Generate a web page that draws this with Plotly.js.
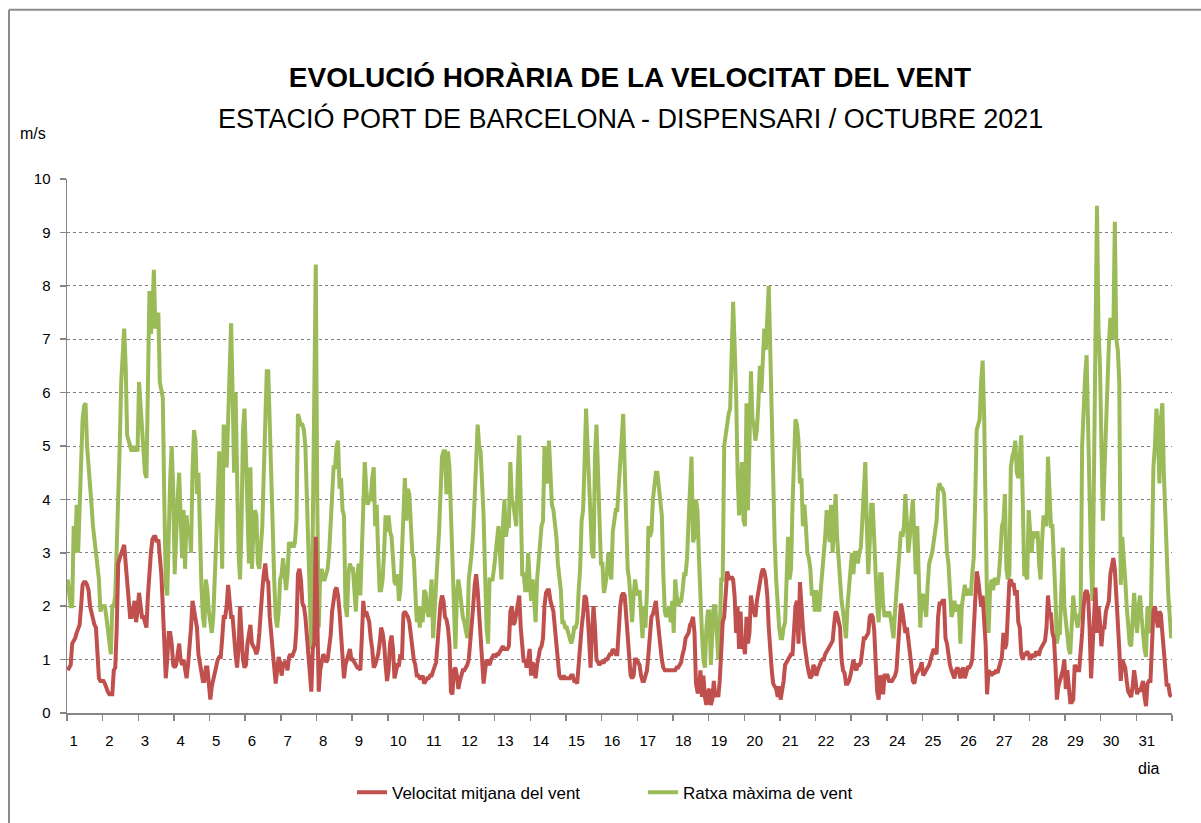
<!DOCTYPE html>
<html>
<head>
<meta charset="utf-8">
<script src="https://cdn.plot.ly/plotly-3.0.1.min.js"></script>
<style>
  html, body { margin: 0; padding: 0; background: #ffffff; }
  #chart { width: 1201px; height: 823px; }
</style>
</head>
<body>
<div id="chart"></div>
<script>
// Day labels of the category axis (October 2021)
const dayLabels = ['1','2','3','4','5','6','7','8','9','10','11','12','13','14','15','16',
  '17','18','19','20','21','22','23','24','25','26','27','28','29','30','31'];

// Hourly mean wind speed (m/s), one row per day (24 hourly values)
const meanSpeed = [
  0.8,0.85,0.9,1.3,1.35,1.4,1.5,1.6,1.65,2.0,2.4,2.45,2.45,2.4,2.3,2.0,1.85,1.8,1.65,1.6,1.1,0.65,0.6,0.6,
  0.6,0.55,0.45,0.4,0.35,0.35,0.35,0.8,0.85,1.6,2.8,2.9,3.0,3.1,3.15,2.8,2.4,2.0,1.8,1.8,2.0,2.1,1.7,1.9,
  2.25,2.0,1.8,1.8,1.7,1.6,2.2,2.7,3.0,3.25,3.3,3.3,3.2,3.25,2.9,2.6,2.0,1.3,0.65,1.0,1.5,1.5,1.3,0.9,
  0.85,0.9,1.1,1.3,1.0,0.9,1.0,0.8,0.65,0.9,1.2,1.6,2.1,1.9,1.8,1.6,1.1,0.9,0.7,0.6,0.6,0.85,0.85,0.5,
  0.25,0.5,0.65,0.8,0.9,1.0,1.05,1.05,1.4,1.8,1.8,2.0,2.4,2.1,1.8,1.8,1.3,1.1,0.85,1.2,2.0,1.4,1.0,0.85,
  0.9,1.3,1.5,1.65,1.3,1.25,1.2,1.1,1.2,1.5,2.0,2.3,2.6,2.8,2.5,2.45,1.8,1.5,1.2,0.8,0.55,0.8,1.05,0.95,
  0.7,0.9,0.95,0.95,0.8,1.05,1.1,1.05,1.15,1.2,1.6,2.6,2.7,2.5,2.05,2.0,1.8,1.4,1.0,0.6,0.4,1.2,1.3,3.3,
  1.5,0.4,0.8,1.0,1.1,1.05,0.95,1.0,1.2,1.45,1.9,2.2,2.3,2.35,2.2,1.9,1.5,1.0,0.65,0.9,1.0,1.1,1.2,1.0,
  1.0,0.95,0.9,0.85,0.85,0.8,1.4,2.1,1.8,1.9,1.8,1.7,1.4,1.2,0.85,0.9,1.0,1.1,1.3,1.6,1.5,1.3,0.9,0.6,
  0.8,1.3,1.45,1.2,0.65,0.8,0.9,0.9,1.1,1.0,1.85,1.9,1.85,1.8,1.7,1.4,1.2,1.0,0.9,0.7,0.7,0.65,0.65,0.7,
  0.55,0.6,0.65,0.65,0.7,0.7,0.8,0.85,0.95,1.3,1.7,2.05,2.2,2.1,1.8,1.75,1.6,1.3,0.4,0.35,0.8,0.85,0.7,0.45,
  0.6,0.7,0.8,0.8,0.85,0.9,1.0,1.3,1.6,2.0,2.4,2.6,2.3,1.9,1.4,0.9,0.55,0.8,1.0,0.95,0.9,1.0,1.05,1.1,
  1.05,1.1,1.1,1.15,1.2,1.25,1.2,1.2,1.2,1.25,1.9,2.0,1.65,1.7,1.9,2.1,2.2,1.6,1.2,0.95,1.0,0.85,1.0,1.2,
  0.7,0.95,0.85,0.65,0.9,1.1,1.2,1.25,1.4,2.0,2.25,2.3,2.3,2.1,1.95,1.9,1.6,1.3,1.0,0.7,0.65,0.65,0.7,0.65,
  0.65,0.65,0.65,0.7,0.7,0.6,0.6,0.55,0.9,1.4,1.6,1.85,2.2,2.15,1.9,1.4,0.85,1.5,2.0,1.6,1.0,0.95,0.9,0.95,
  0.95,0.95,1.0,1.0,1.05,1.1,1.1,1.2,1.15,1.1,1.1,1.6,2.0,2.2,2.25,2.2,1.8,1.3,1.0,0.7,0.65,0.7,1.0,1.0,
  0.95,0.9,0.7,0.6,0.6,0.7,0.8,1.1,1.5,1.8,1.85,2.0,2.1,1.8,1.5,1.4,1.0,0.85,0.8,0.8,0.8,0.8,0.8,0.8,
  0.8,0.8,0.85,0.85,0.9,0.95,1.1,1.2,1.4,1.45,1.5,1.65,1.7,1.8,1.5,0.55,0.4,0.4,0.8,0.3,0.7,0.3,0.15,0.4,
  0.45,0.15,0.25,0.6,0.3,0.4,0.3,0.6,1.2,1.7,1.8,2.4,2.65,2.55,2.5,2.55,2.5,2.2,1.5,2.0,1.2,1.9,1.2,1.3,
  1.1,1.8,1.3,1.5,2.2,2.0,1.9,1.8,2.1,2.3,2.4,2.6,2.7,2.65,2.5,2.2,1.6,1.1,0.8,0.55,0.5,0.45,0.3,0.5,
  0.25,0.4,0.6,0.9,0.95,1.0,1.05,1.1,1.1,1.6,2.0,2.1,1.3,2.45,1.9,1.6,1.3,1.0,0.9,0.75,0.65,0.7,0.9,0.85,
  0.7,0.8,0.9,0.95,1.0,1.0,1.1,1.15,1.2,1.25,1.3,1.35,1.65,1.9,1.85,1.75,1.6,1.0,0.8,0.75,0.55,0.55,0.6,0.7,
  0.9,1.0,0.85,0.8,0.9,0.9,0.95,1.2,1.4,1.4,1.45,1.5,1.8,1.85,1.8,1.55,0.95,0.4,0.25,0.7,0.65,0.35,0.7,0.7,
  0.7,0.6,0.6,0.6,0.65,0.7,0.8,1.3,1.65,2.05,1.9,1.7,1.5,1.6,1.4,1.2,0.9,0.6,0.55,0.7,0.75,0.8,0.85,0.95,
  0.7,0.75,0.8,0.85,0.9,1.0,1.1,1.2,1.15,1.1,1.8,2.05,2.05,2.1,2.1,1.4,1.3,1.0,0.9,0.8,0.7,0.65,0.8,0.85,
  0.8,0.65,0.8,0.85,0.65,0.8,0.85,0.85,0.9,1.0,1.5,2.3,2.65,2.5,2.3,2.0,2.2,1.65,1.3,0.35,0.8,0.75,0.7,0.75,
  0.75,0.8,0.75,0.85,1.0,1.05,1.5,1.2,1.3,1.8,2.45,2.5,2.4,2.4,2.2,2.3,1.7,1.6,1.1,1.0,1.1,1.1,1.15,1.1,
  1.0,1.05,1.1,1.05,1.15,1.1,1.1,1.2,1.25,1.3,1.35,1.6,2.2,1.85,1.85,1.5,1.4,0.9,0.25,0.5,0.65,0.7,0.8,1.0,
  0.45,0.8,0.5,0.2,0.2,0.25,0.9,0.85,0.8,0.8,1.1,1.5,2.0,2.25,2.3,2.2,1.6,0.65,1.2,2.0,2.35,1.5,2.0,1.7,
  1.25,1.6,1.6,1.9,2.0,2.1,2.6,2.8,2.9,2.7,2.3,1.7,1.2,0.6,1.0,0.9,0.85,0.6,0.4,0.35,0.3,0.5,0.8,0.6,
  0.35,0.45,0.4,0.5,0.6,0.3,0.13,0.55,0.6,0.6,1.2,1.9,2.0,1.8,1.6,1.9,1.85,1.5,1.2,0.9,0.5,0.55,0.35,0.3
];

// Hourly maximum gust (m/s), one row per day (24 hourly values)
const maxGust = [
  2.5,2.3,2.0,2.0,3.5,3.0,3.9,3.0,3.9,4.6,5.5,5.75,5.8,5.0,4.7,4.3,3.9,3.5,3.2,2.9,2.8,2.5,1.9,2.0,
  2.0,2.0,1.8,1.5,1.2,1.1,2.0,2.0,2.2,3.0,3.9,5.0,6.2,6.8,7.2,6.5,5.2,5.1,5.0,4.9,5.0,4.9,5.0,4.9,
  6.2,5.8,5.5,4.9,4.5,4.4,6.5,7.9,7.1,7.5,8.3,7.2,7.3,7.5,6.2,6.0,5.9,4.0,2.4,2.2,3.5,4.4,5.0,4.2,
  2.6,3.5,4.0,4.5,3.3,2.9,3.8,2.7,3.7,3.3,3.5,3.0,4.5,5.3,5.1,4.1,4.5,3.0,2.4,1.8,1.6,2.5,2.3,1.9,
  1.6,1.5,1.8,2.5,3.0,4.0,4.9,4.0,2.7,5.4,5.1,4.6,5.5,6.7,7.3,6.0,4.5,6.0,4.0,3.0,2.5,3.5,5.3,5.7,
  4.8,3.5,2.8,4.6,2.7,3.4,3.8,3.7,2.8,2.7,3.0,3.5,4.5,5.8,6.4,6.4,5.6,4.5,3.5,2.5,1.8,1.6,1.9,2.5,
  2.6,2.9,2.6,2.3,2.6,3.2,3.1,3.2,3.1,3.2,3.6,5.6,5.5,5.4,5.4,5.3,5.0,4.0,3.0,2.0,1.2,3.5,6.5,8.4,
  4.0,1.6,2.6,2.7,2.5,2.5,2.6,2.7,3.0,3.6,4.0,4.6,4.6,5.0,5.1,4.2,4.4,3.8,3.7,2.0,1.8,2.6,2.8,2.7,
  2.7,2.2,1.9,2.6,2.8,2.2,3.0,4.0,4.7,4.2,3.9,4.0,4.0,4.4,4.6,3.5,3.9,3.0,2.3,2.3,2.5,3.0,3.7,3.4,
  3.7,3.4,3.3,2.9,2.45,2.4,2.6,2.1,2.3,3.0,4.0,4.4,3.6,4.2,4.1,3.3,3.0,2.9,2.2,1.7,2.0,1.6,2.0,1.7,
  2.3,2.25,1.9,1.8,2.1,2.5,1.4,2.0,2.3,2.9,3.4,4.3,4.8,4.9,4.9,4.1,4.9,4.6,3.6,2.8,2.0,1.2,2.2,2.5,
  2.3,2.0,1.8,1.7,1.5,1.4,2.5,2.7,3.0,3.4,3.9,4.7,5.4,5.0,4.9,4.4,3.7,2.6,1.6,1.3,2.5,2.5,2.5,2.7,
  3.0,3.1,3.5,3.0,2.5,3.5,4.0,3.3,3.5,3.5,4.7,4.0,3.9,3.7,3.5,4.5,5.2,4.0,2.6,2.6,2.3,2.3,3.0,2.5,
  2.1,2.5,2.2,1.7,2.5,2.9,3.3,3.5,3.6,5.0,4.5,4.3,5.1,4.2,3.9,3.8,3.6,3.3,2.8,2.5,2.3,1.7,1.7,1.6,
  1.6,1.5,1.35,1.3,1.4,1.6,1.6,1.7,2.3,2.7,3.6,3.8,4.7,5.7,5.0,4.2,3.5,3.0,2.9,4.8,5.4,4.3,3.7,2.8,
  2.8,2.25,2.4,2.6,3.0,2.8,2.5,3.4,3.6,3.8,3.8,4.2,4.7,5.0,5.6,4.6,3.5,2.7,2.5,2.2,1.7,2.2,2.5,2.3,
  2.2,2.3,1.8,1.4,2.0,1.6,2.3,3.5,3.3,3.4,4.0,4.2,4.5,4.5,4.2,4.0,3.7,2.6,1.9,1.8,1.9,2.0,1.7,2.1,
  1.5,2.5,2.2,2.0,2.1,2.1,2.3,2.6,2.6,2.9,3.6,4.5,4.8,3.2,3.3,4.0,3.8,2.9,2.0,1.5,1.0,0.85,1.6,1.9,
  1.9,0.9,1.5,2.0,2.0,1.5,1.0,1.5,2.5,2.5,5.0,5.2,5.5,5.6,5.7,7.0,7.7,6.9,6.0,4.5,3.7,4.3,4.7,3.6,
  3.5,5.8,3.8,5.0,6.4,5.5,5.4,5.1,5.3,5.8,6.5,6.0,6.5,7.2,6.8,7.5,8.0,6.8,5.5,4.2,3.2,2.5,1.9,1.6,
  1.4,1.4,1.6,1.7,2.5,3.3,2.5,2.7,3.9,4.5,5.5,5.4,5.1,4.3,4.4,3.5,3.9,3.5,3.0,2.9,2.7,2.2,2.3,1.9,
  2.3,2.0,1.9,2.3,2.6,3.0,3.3,3.8,3.5,3.2,3.9,3.0,3.5,4.1,3.3,2.8,2.5,2.1,1.9,1.6,1.4,2.0,2.3,2.8,
  3.0,2.6,3.0,3.0,2.8,3.0,3.1,3.6,4.4,4.7,3.5,2.6,3.2,3.9,3.9,3.0,2.6,2.0,1.7,2.6,2.6,2.0,1.8,1.9,
  1.8,1.9,1.8,1.6,1.4,1.9,2.3,2.6,2.9,3.4,3.3,3.5,4.1,3.3,3.0,3.3,3.8,4.0,3.3,2.6,3.5,2.6,1.6,2.2,
  2.2,2.0,1.8,2.4,2.8,2.9,3.0,3.2,3.4,3.6,4.2,4.3,4.2,4.2,4.1,3.5,3.0,2.8,2.2,1.8,1.9,2.1,1.9,2.0,
  2.0,1.3,2.0,2.3,2.4,2.2,2.3,2.3,2.2,2.6,2.9,4.0,5.3,5.4,5.5,6.2,6.6,5.6,3.5,2.0,1.5,2.3,2.5,2.3,
  2.5,2.5,2.4,2.6,3.0,3.5,3.6,4.1,2.7,2.5,2.6,4.6,4.8,4.9,5.1,4.5,4.4,4.8,5.2,4.0,2.6,2.6,2.5,3.8,
  3.3,3.0,3.4,3.3,3.3,3.4,2.8,2.5,3.2,3.7,3.6,3.5,4.8,3.9,3.5,3.5,3.0,2.2,1.3,1.5,1.5,2.5,3.1,2.0,
  1.7,1.4,1.2,1.1,1.7,2.2,1.9,1.7,1.6,1.8,1.9,5.0,5.8,6.3,6.7,5.2,3.6,2.8,2.1,5.0,8.0,9.5,7.2,6.5,
  5.0,3.6,4.5,5.5,6.5,6.9,7.4,7.0,7.1,9.2,7.0,6.8,6.2,2.4,3.3,2.7,2.5,2.0,1.5,1.3,1.25,1.8,2.25,1.8,
  1.5,2.0,2.2,1.8,1.45,1.2,1.05,2.0,1.6,1.5,3.0,4.6,5.0,5.7,5.3,4.3,5.5,5.8,4.5,3.6,2.8,2.2,1.8,1.4
];

const seriesNames = ['Velocitat mitjana del vent', 'Ratxa màxima de vent'];

const HOURS_PER_DAY = 24;
const hourIndex = meanSpeed.map((_, i) => i + 0.5);
const totalHours = meanSpeed.length;

// plot-area geometry in page pixels
const PL = 67, PR = 1172, PT = 179, PB = 715;
const W = 1201, H = 823;
const px = v => (v - PL) / (PR - PL);
const py = v => (PB - v) / (PB - PT);

const FONT = "'Liberation Sans', Arial, sans-serif";
const AXIS_GREY = '#868686';

const gustTrace = {
  x: hourIndex, y: maxGust, type: 'scatter', mode: 'lines',
  name: seriesNames[1], legendrank: 2,
  line: { color: '#9BBB59', width: 4 }, hoverinfo: 'skip'
};
const meanTrace = {
  x: hourIndex, y: meanSpeed, type: 'scatter', mode: 'lines',
  name: seriesNames[0], legendrank: 1,
  line: { color: '#C0504D', width: 4 }, hoverinfo: 'skip'
};

const labelVals = dayLabels.map((d, i) => i * HOURS_PER_DAY + (d.length > 1 ? 7 : 4.5));

const layout = {
  width: W, height: H,
  margin: { l: PL, r: W - PR, t: PT, b: H - PB, pad: 0 },
  paper_bgcolor: '#ffffff', plot_bgcolor: '#ffffff',
  font: { family: FONT, size: 15, color: '#000000' },
  title: {
    text: '<b>EVOLUCIÓ HORÀRIA DE LA VELOCITAT DEL VENT</b>',
    font: { family: FONT, size: 28, color: '#000000' },
    x: 630 / W, xref: 'container', xanchor: 'center',
    y: 1 - 77 / H, yref: 'container', yanchor: 'middle'
  },
  showlegend: true,
  legend: {
    orientation: 'h', x: px(352), xanchor: 'left', xref: 'paper',
    y: py(795), yanchor: 'middle', yref: 'paper',
    font: { family: FONT, size: 17, color: '#000000' },
    traceorder: 'normal', itemwidth: 30, entrywidth: 246,
    bgcolor: 'rgba(0,0,0,0)'
  },
  xaxis: {
    range: [0, totalHours], fixedrange: true,
    tickmode: 'array', tickvals: labelVals, ticktext: dayLabels,
    ticks: '', showgrid: false, zeroline: false,
    showline: true, linecolor: AXIS_GREY, linewidth: 1.5,
    tickfont: { family: FONT, size: 15, color: '#000000' },
    ticklabelstandoff: 13,
    minor: { tickmode: 'linear', tick0: 0, dtick: HOURS_PER_DAY, ticks: 'outside',
             ticklen: 6, tickcolor: AXIS_GREY, tickwidth: 1.5, showgrid: false }
  },
  yaxis: {
    range: [0, 10], dtick: 1, tick0: 0, fixedrange: true,
    showgrid: true, gridcolor: '#7f7f7f', griddash: 'dot', gridwidth: 1,
    zeroline: false, showline: true, linecolor: AXIS_GREY, linewidth: 1.5,
    ticks: 'outside', ticklen: 6, tickcolor: AXIS_GREY, tickwidth: 1.5,
    tickfont: { family: FONT, size: 15, color: '#000000' },
    ticklabelstandoff: 6
  },
  annotations: [
    { text: 'ESTACIÓ PORT DE BARCELONA - DISPENSARI / OCTUBRE 2021',
      xref: 'paper', yref: 'paper', x: px(630), y: py(118),
      xanchor: 'center', yanchor: 'middle', showarrow: false,
      font: { family: FONT, size: 27, color: '#000000' } },
    { text: 'm/s', xref: 'paper', yref: 'paper', x: px(33), y: py(133),
      xanchor: 'center', yanchor: 'middle', showarrow: false,
      font: { family: FONT, size: 16, color: '#000000' } },
    { text: 'dia', xref: 'paper', yref: 'paper', x: px(1148), y: py(771),
      xanchor: 'center', yanchor: 'middle', showarrow: false,
      font: { family: FONT, size: 16, color: '#000000' } }
  ],
  shapes: [
    { type: 'line', xref: 'paper', yref: 'paper',
      x0: px(9), x1: px(1205), y0: py(9), y1: py(9),
      line: { color: '#8c8c8c', width: 2 } },
    { type: 'line', xref: 'paper', yref: 'paper',
      x0: px(9), x1: px(9), y0: py(9), y1: py(830),
      line: { color: '#8c8c8c', width: 2 } }
  ]
};

Plotly.newPlot('chart', [gustTrace, meanTrace], layout, { staticPlot: true, displayModeBar: false });
</script>
</body>
</html>
